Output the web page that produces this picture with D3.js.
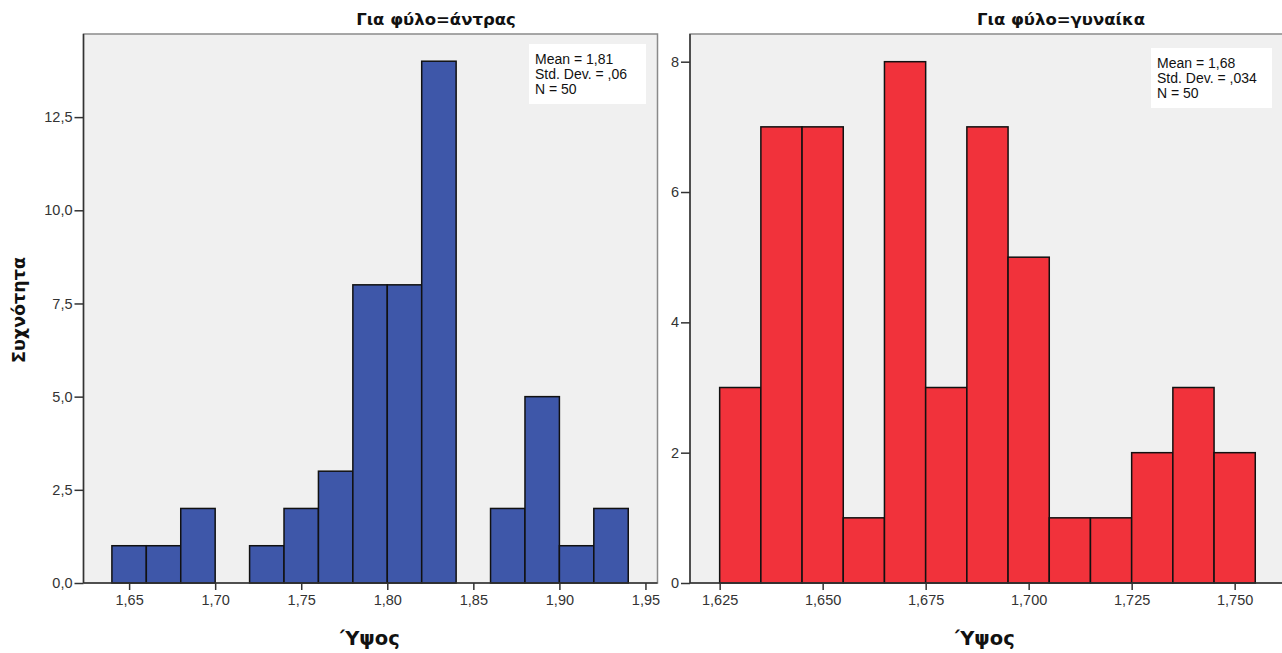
<!DOCTYPE html>
<html>
<head>
<meta charset="utf-8">
<script src="https://cdn.jsdelivr.net/npm/d3@7"></script>
<style>
  html, body { margin: 0; padding: 0; background: #fff; overflow: hidden; }
  svg { display: block; }
</style>
</head>
<body>
<svg id="chart" width="1282" height="653"></svg>
<script>
// Histogram of height by gender (men / women)
const menBinStarts   = [1.64, 1.66, 1.68, 1.70, 1.72, 1.74, 1.76, 1.78, 1.80, 1.82, 1.84, 1.86, 1.88, 1.90, 1.92];
const menCounts      = [1, 1, 2, 0, 1, 2, 3, 8, 8, 14, 0, 2, 5, 1, 2];
const menBinWidth    = 0.02;
const menXTicks      = [1.65, 1.70, 1.75, 1.80, 1.85, 1.90, 1.95];
const menYTicks      = [0, 2.5, 5, 7.5, 10, 12.5];
const menStats       = ["Mean = 1,81", "Std. Dev. = ,06", "N = 50"];

const womenBinStarts = [1.625, 1.635, 1.645, 1.655, 1.665, 1.675, 1.685, 1.695, 1.705, 1.715, 1.725, 1.735, 1.745];
const womenCounts    = [3, 7, 7, 1, 8, 3, 7, 5, 1, 1, 2, 3, 2];
const womenBinWidth  = 0.01;
const womenXTicks    = [1.625, 1.650, 1.675, 1.700, 1.725, 1.750];
const womenYTicks    = [0, 2, 4, 6, 8];
const womenStats     = ["Mean = 1,68", "Std. Dev. = ,034", "N = 50"];

const titles = ["Για φύλο=άντρας", "Για φύλο=γυναίκα"];
const xTitle = "Ύψος";
const yTitle = "Συχνότητα";

const gr = d3.formatLocale({decimal: ",", thousands: ".", grouping: [3], currency: ["", "€"]});

const svg = d3.select("#chart");
const TOP = 34, BOTTOM = 583;

function panel(cfg) {
  const x = d3.scaleLinear().domain(cfg.xDomain).range([cfg.left, cfg.right]);
  const y = d3.scaleLinear().domain(cfg.yDomain).range([BOTTOM, TOP]);
  const g = svg.append("g");

  // plot background
  g.append("rect")
    .attr("x", cfg.left).attr("y", TOP)
    .attr("width", cfg.right - cfg.left).attr("height", BOTTOM - TOP)
    .attr("fill", "#f0f0f0").attr("stroke", "#8a8a8a").attr("stroke-width", 1.5);

  // bars
  g.append("g").selectAll("rect")
    .data(cfg.starts.map((s, i) => ({s, c: cfg.counts[i]})).filter(d => d.c > 0))
    .join("rect")
    .attr("x", d => x(d.s))
    .attr("y", d => y(d.c))
    .attr("width", d => x(d.s + cfg.binWidth) - x(d.s))
    .attr("height", d => y(0) - y(d.c))
    .attr("fill", cfg.color)
    .attr("stroke", "#111")
    .attr("stroke-width", 1.5);

  // axes
  const xAxis = d3.axisBottom(x).tickValues(cfg.xTicks)
    .tickFormat(gr.format(cfg.xFmt)).tickSizeOuter(0).tickSize(7).tickPadding(5);
  const gx = g.append("g").attr("transform", `translate(0,${BOTTOM})`).call(xAxis);
  gx.select(".domain").attr("stroke", "#333").attr("stroke-width", 1.5)
    .attr("d", `M${cfg.left},0H${cfg.right}`);

  const yAxis = d3.axisLeft(y).tickValues(cfg.yTicks)
    .tickFormat(gr.format(cfg.yFmt)).tickSizeOuter(0).tickSize(9).tickPadding(2);
  const gy = g.append("g").attr("transform", `translate(${cfg.left},0)`).call(yAxis);
  gy.select(".domain").attr("stroke", "#333").attr("stroke-width", 1.5)
    .attr("d", `M0,${TOP}V${BOTTOM}`);

  [gx, gy].forEach(a => {
    a.selectAll(".tick line").attr("stroke", "#333").attr("stroke-width", 1.5);
    a.selectAll(".tick text").attr("fill", "#333")
      .style("font-family", "'Liberation Sans', Arial, sans-serif").style("font-size", "14.5px");
  });

  // statistics box
  const box = g.append("g");
  box.append("rect")
    .attr("x", cfg.boxX).attr("y", cfg.boxY).attr("width", cfg.boxW).attr("height", 60)
    .attr("fill", "#fff");
  box.selectAll("text").data(cfg.stats).join("text")
    .attr("x", cfg.boxX + 6)
    .attr("y", (d, i) => cfg.boxY + 20 + i * 15)
    .text(d => d)
    .attr("fill", "#111")
    .style("font-family", "'Liberation Sans', Arial, sans-serif").style("font-size", "14px");

  // panel title
  g.append("text")
    .attr("x", cfg.titleX).attr("y", 25).attr("text-anchor", "middle")
    .text(cfg.title).attr("fill", "#111")
    .style("font-family", "'DejaVu Sans', Verdana, sans-serif")
    .style("font-weight", "bold").style("font-size", "16.5px");

  // x axis title
  g.append("text")
    .attr("x", cfg.xTitleX).attr("y", 645).attr("text-anchor", "middle")
    .text(xTitle).attr("fill", "#111")
    .style("font-family", "'DejaVu Sans', Verdana, sans-serif")
    .style("font-weight", "bold").style("font-size", "19.5px");
}

panel({
  left: 83.5, right: 657.5,
  xDomain: [1.6235, 1.957], yDomain: [0, 14.73],
  starts: menBinStarts, counts: menCounts, binWidth: menBinWidth,
  xTicks: menXTicks, yTicks: menYTicks, xFmt: ".2f", yFmt: ".1f",
  color: "#3e57a9", stats: menStats,
  boxX: 529, boxY: 44, boxW: 117,
  title: titles[0], titleX: 436, xTitleX: 370
});

panel({
  left: 690, right: 1290,
  xDomain: [1.6178, 1.6178 + 600 / 4120], yDomain: [0, 8.425],
  starts: womenBinStarts, counts: womenCounts, binWidth: womenBinWidth,
  xTicks: womenXTicks, yTicks: womenYTicks, xFmt: ".3f", yFmt: "d",
  color: "#f1323b", stats: womenStats,
  boxX: 1151, boxY: 48, boxW: 121,
  title: titles[1], titleX: 1061, xTitleX: 985
});

// shared y axis title
svg.append("text")
  .attr("transform", "translate(25,310) rotate(-90)")
  .attr("text-anchor", "middle")
  .text(yTitle).attr("fill", "#111")
  .style("font-family", "'DejaVu Sans', Verdana, sans-serif")
  .style("font-weight", "bold").style("font-size", "17.5px");
</script>
</body>
</html>
